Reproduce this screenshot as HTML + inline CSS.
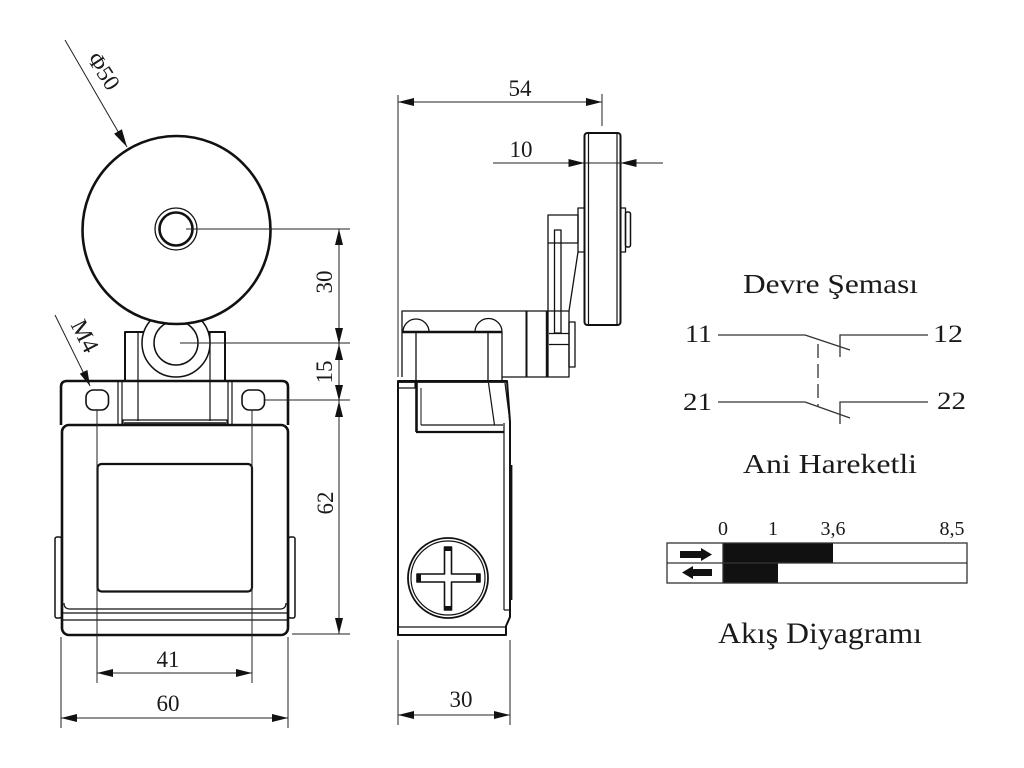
<!DOCTYPE html>
<html><head><meta charset="utf-8"><style>
html,body{margin:0;padding:0;background:#fff;}
svg{display:block;}
text{font-family:"Liberation Serif",serif;fill:#1a1a1a;}
</style></head><body>
<svg width="1024" height="768" viewBox="0 0 1024 768" xmlns="http://www.w3.org/2000/svg">
<rect width="1024" height="768" fill="#fff"/>

<!-- ============ FRONT VIEW ============ -->
<g fill="none" stroke="#111" stroke-linejoin="round">
  <path d="M125,381 V332 H225 V381" stroke-width="2"/>
  <line x1="138" y1="332" x2="138" y2="421" stroke-width="1.2"/>
  <line x1="210" y1="332" x2="210" y2="421" stroke-width="1.2"/>
  <circle cx="176" cy="343" r="34" fill="#fff" stroke-width="1.5"/>
  <circle cx="176" cy="343" r="22" stroke-width="1.5"/>
  <circle cx="176.5" cy="230" r="94" fill="#fff" stroke-width="2.6"/>
  <circle cx="176" cy="229" r="21" stroke-width="1.3"/>
  <circle cx="176" cy="229" r="16.5" stroke-width="2.6"/>

  <path d="M61,425 V387 Q61,381 67,381 H282 Q288,381 288,387 V425" stroke-width="2.6"/>
  <line x1="118" y1="381" x2="118" y2="425" stroke-width="1.2"/>
  <line x1="122" y1="381" x2="122" y2="425" stroke-width="1.2"/>
  <line x1="228" y1="381" x2="228" y2="425" stroke-width="1.2"/>
  <line x1="232" y1="381" x2="232" y2="425" stroke-width="1.2"/>
  <path d="M123,424 V420 H227 V424" stroke-width="1.2"/>
  <line x1="124" y1="423" x2="226" y2="423" stroke-width="1.5"/>
  <rect x="86" y="390" width="22.5" height="20" rx="7.5" stroke-width="1.6"/>
  <rect x="242" y="390" width="22.5" height="20" rx="7.5" stroke-width="1.6"/>

  <rect x="55" y="537" width="6.5" height="81" rx="2" stroke-width="1.5"/>
  <rect x="288.5" y="537" width="6.5" height="81" rx="2" stroke-width="1.5"/>
  <rect x="62" y="425" width="226" height="210" rx="7" fill="#fff" stroke-width="2.6"/>
  <path d="M64,603 Q64,609 70,609 H280 Q286,609 286,603" stroke-width="1.2"/>
  <line x1="63" y1="613" x2="287" y2="613" stroke-width="1.2"/>
  <line x1="63" y1="620" x2="287" y2="620" stroke-width="1.2"/>
  <rect x="97.5" y="464" width="154.5" height="127.5" rx="4" stroke-width="2.2"/>
</g>

<g stroke="#222" stroke-width="1" fill="none">
  <line x1="186" y1="229" x2="350" y2="229"/>
  <line x1="180" y1="343" x2="350" y2="343"/>
  <line x1="265" y1="400" x2="350" y2="400"/>
  <line x1="292" y1="634" x2="350" y2="634"/>
  <line x1="339" y1="229" x2="339" y2="634"/>
  <line x1="97" y1="410" x2="97" y2="683"/>
  <line x1="252" y1="410" x2="252" y2="683"/>
  <line x1="97" y1="673" x2="252" y2="673"/>
  <line x1="61" y1="637" x2="61" y2="728"/>
  <line x1="288" y1="637" x2="288" y2="728"/>
  <line x1="61" y1="718" x2="288" y2="718"/>
  <line x1="65" y1="40" x2="127" y2="147"/>
  <line x1="55" y1="315" x2="90" y2="386"/>
</g>
<g fill="#111" stroke="none">
  <polygon points="339,229 335,245 343,245"/>
  <polygon points="339,344 335,328 343,328"/>
  <polygon points="339,344 335,360 343,360"/>
  <polygon points="339,401 335,385 343,385"/>
  <polygon points="339,401 335,417 343,417"/>
  <polygon points="339,634 335,618 343,618"/>
  <polygon points="97,673 113,669 113,677"/>
  <polygon points="252,673 236,669 236,677"/>
  <polygon points="61,718 77,714 77,722"/>
  <polygon points="288,718 272,714 272,722"/>
  <polygon points="127,147 121.9,129.2 114.1,133.7"/>
  <polygon points="90,386 87.4,370 79.8,373.7"/>
</g>
<g font-size="23">
  <text x="0" y="0" text-anchor="middle" transform="translate(324,282) rotate(-90)" dy="8">30</text>
  <text x="0" y="0" text-anchor="middle" transform="translate(324,372) rotate(-90)" dy="8">15</text>
  <text x="0" y="0" text-anchor="middle" transform="translate(325,503) rotate(-90)" dy="8">62</text>
  <text x="168" y="667" text-anchor="middle">41</text>
  <text x="168" y="711" text-anchor="middle">60</text>
  <text x="0" y="0" text-anchor="middle" transform="translate(104,71) rotate(57)" dy="8">Φ50</text>
  <text x="0" y="0" text-anchor="middle" font-size="24" transform="translate(85,336) rotate(63)" dy="8">M4</text>
</g>

<!-- ============ SIDE VIEW ============ -->
<g fill="none" stroke="#111" stroke-linejoin="round">
  <rect x="584.5" y="133" width="36" height="192" rx="3" stroke-width="2"/>
  <line x1="588.5" y1="134" x2="588.5" y2="324" stroke-width="1.2"/>
  <line x1="617" y1="134" x2="617" y2="324" stroke-width="1.2"/>
  <rect x="620.5" y="208" width="5" height="44" stroke-width="1.3"/>
  <rect x="625.5" y="212" width="5" height="35" rx="2" stroke-width="1.5"/>
  <rect x="578" y="208" width="6.5" height="44" stroke-width="1.3"/>
  <rect x="548" y="215" width="30" height="28" stroke-width="1.3"/>
  <line x1="548" y1="243" x2="548" y2="377" stroke-width="1.3"/>
  <rect x="554.5" y="230" width="6.5" height="103" stroke-width="1.3"/>
  <line x1="578" y1="252" x2="569" y2="311" stroke-width="1.3"/>
  <path d="M402,377 V311 H569 V377 H502" stroke-width="1.3"/>
  <path d="M403,332 A13,13 0 0 1 429,332" stroke-width="1.3"/>
  <path d="M475,332 A13.5,13.5 0 0 1 502,332" stroke-width="1.3"/>
  <line x1="402" y1="332" x2="502" y2="332" stroke-width="2.6"/>
  <line x1="416" y1="332" x2="416" y2="381" stroke-width="1.3"/>
  <line x1="488" y1="332" x2="488" y2="381" stroke-width="1.3"/>
  <line x1="502" y1="332" x2="502" y2="381" stroke-width="1.3"/>
  <line x1="526.5" y1="311" x2="526.5" y2="377" stroke-width="2"/>
  <line x1="547" y1="311" x2="547" y2="377" stroke-width="2.4"/>
  <line x1="549" y1="333.5" x2="569" y2="333.5" stroke-width="1.3"/>
  <line x1="549" y1="344.5" x2="569" y2="344.5" stroke-width="1.3"/>
  <rect x="569" y="322" width="6" height="45" stroke-width="1.3"/>
  <path d="M398,381 H507 L510,422 V617 L506,626 V635 H398 Z" stroke-width="2"/>
  <line x1="398" y1="381.5" x2="506" y2="381.5" stroke-width="2.8"/>
  <rect x="398" y="382" width="17" height="6" stroke-width="1.2"/>
  <line x1="416.5" y1="382" x2="416.5" y2="432" stroke-width="2.6"/>
  <line x1="421" y1="388" x2="421" y2="425" stroke-width="1"/>
  <line x1="421" y1="425" x2="503" y2="425" stroke-width="1.2"/>
  <line x1="416" y1="432" x2="504" y2="432" stroke-width="2.2"/>
  <line x1="488.5" y1="383" x2="494.5" y2="425" stroke-width="1.2"/>
  <line x1="505" y1="383" x2="510" y2="422" stroke-width="1.2"/>
  <line x1="504" y1="423" x2="504" y2="610" stroke-width="1.2"/>
  <line x1="504" y1="610" x2="510" y2="610" stroke-width="1.2"/>
  <line x1="511.5" y1="465" x2="511.5" y2="600" stroke-width="1.8"/>
  <line x1="398" y1="627" x2="506" y2="627" stroke-width="1.2"/>
  <circle cx="448" cy="578" r="40" stroke-width="1.8"/>
  <circle cx="448" cy="578" r="37" stroke-width="1.2"/>
  <path d="M417,574 H444.5 V547 H451.5 V574 H480 V582 H451.5 V610 H444.5 V582 H417 Z" stroke-width="1.6"/>
</g>
<g fill="#111">
  <rect x="417" y="574" width="4" height="8"/>
  <rect x="476" y="574" width="4" height="8"/>
  <rect x="444.5" y="547" width="7" height="4"/>
  <rect x="444.5" y="606" width="7" height="4"/>
</g>
<g stroke="#222" stroke-width="1" fill="none">
  <line x1="398" y1="95" x2="398" y2="377"/>
  <line x1="602" y1="94" x2="602" y2="126"/>
  <line x1="398" y1="102" x2="602" y2="102"/>
  <line x1="493" y1="163" x2="663" y2="163"/>
  <line x1="398" y1="640" x2="398" y2="725"/>
  <line x1="510" y1="640" x2="510" y2="725"/>
  <line x1="398" y1="715" x2="510" y2="715"/>
</g>
<g fill="#111">
  <polygon points="398,102 414,98 414,106"/>
  <polygon points="602,102 586,98 586,106"/>
  <polygon points="584.5,163 568.5,159 568.5,167"/>
  <polygon points="620.5,163 636.5,159 636.5,167"/>
  <polygon points="398,715 414,711 414,719"/>
  <polygon points="510,715 494,711 494,719"/>
</g>
<g font-size="23">
  <text x="520" y="96" text-anchor="middle">54</text>
  <text x="521" y="157" text-anchor="middle">10</text>
  <text x="461" y="707" text-anchor="middle">30</text>
</g>

<!-- ============ CIRCUIT ============ -->
<g font-size="27">
  <text x="743" y="293" textLength="175" lengthAdjust="spacingAndGlyphs">Devre Şeması</text>
  <text x="743" y="473" textLength="174" lengthAdjust="spacingAndGlyphs">Ani Hareketli</text>
</g>
<g font-size="25">
  <text x="685" y="342" textLength="27" lengthAdjust="spacingAndGlyphs">11</text>
  <text x="933" y="342" textLength="30" lengthAdjust="spacingAndGlyphs">12</text>
  <text x="683" y="410" textLength="29" lengthAdjust="spacingAndGlyphs">21</text>
  <text x="937" y="409" textLength="29" lengthAdjust="spacingAndGlyphs">22</text>
</g>
<g stroke="#333" stroke-width="1.3" fill="none">
  <line x1="718" y1="335" x2="805" y2="335"/>
  <line x1="805" y1="335" x2="850" y2="350"/>
  <path d="M840,357 V335 H928"/>
  <line x1="718" y1="402" x2="805" y2="402"/>
  <line x1="805" y1="402" x2="850" y2="418"/>
  <path d="M840,424 V402 H928"/>
  <line x1="818" y1="344" x2="818" y2="406" stroke-dasharray="14,6"/>
</g>

<!-- ============ FLOW DIAGRAM ============ -->
<g font-size="20" text-anchor="middle">
  <text x="723" y="535">0</text>
  <text x="773" y="535">1</text>
  <text x="833" y="535">3,6</text>
  <text x="952" y="535">8,5</text>
</g>
<rect x="723" y="543" width="110" height="20" fill="#111"/>
<rect x="723" y="563" width="55" height="20" fill="#111"/>
<g stroke="#333" stroke-width="1.3" fill="none">
  <rect x="667" y="543" width="300" height="40"/>
  <line x1="667" y1="563" x2="967" y2="563"/>
  <line x1="723" y1="543" x2="723" y2="583"/>
</g>
<polygon points="680,551 701,551 701,548 712,554.5 701,561 701,558 680,558" fill="#111"/>
<polygon points="712,569 693,569 693,566 682,572.5 693,579 693,576 712,576" fill="#111"/>
<text x="718" y="643" font-size="30" textLength="204" lengthAdjust="spacingAndGlyphs">Akış Diyagramı</text>
</svg>
</body></html>
